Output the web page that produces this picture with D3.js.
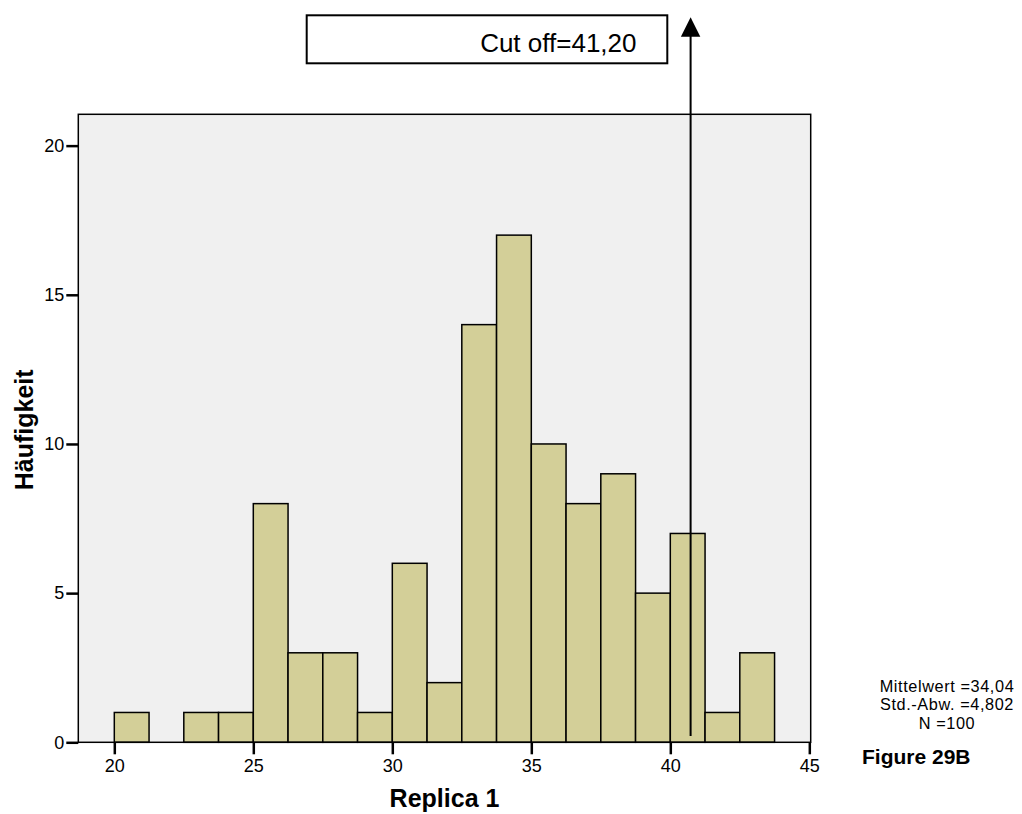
<!DOCTYPE html>
<html>
<head>
<meta charset="utf-8">
<script src="https://cdn.jsdelivr.net/npm/d3@7"></script>
<style>
  html, body { margin: 0; padding: 0; background: #fff; }
  svg { display: block; font-family: "Liberation Sans", Arial, sans-serif; }
</style>
</head>
<body>
<svg id="chart" width="1022" height="814"></svg>
<script>
// Histogram of Replica 1 (bin width 1.25, starting at 20)
const binStarts = [20, 21.25, 22.5, 23.75, 25, 26.25, 27.5, 28.75, 30, 31.25,
                   32.5, 33.75, 35, 36.25, 37.5, 38.75, 40, 41.25, 42.5];
const counts    = [1, 0, 1, 1, 8, 3, 3, 1, 6, 2,
                   14, 17, 10, 8, 9, 5, 7, 1, 3];
const binWidth = 1.25;
const xTicks = [20, 25, 30, 35, 40, 45];
const yTicks = [0, 5, 10, 15, 20];
const statLines = ["Mittelwert =34,04", "Std.-Abw. =4,802", "N =100"];
const cutoffLabel = "Cut off=41,20";
const arrowAt = 40.73;          // horizontal position of the cut-off arrow
const arrowSpan = [0.21, 24.3]; // arrow runs from this count level up past the frame

const svg = d3.select("#chart");
const plot = { left: 78.3, right: 810.7, top: 114.3, bottom: 742.3 };

const x = d3.scaleLinear().domain([18.705, 45.05]).range([plot.left, plot.right]);
const y = d3.scaleLinear().domain([0, 21.05]).range([plot.bottom, plot.top]);

// plot background
svg.append("rect")
  .attr("x", plot.left).attr("y", plot.top)
  .attr("width", plot.right - plot.left).attr("height", plot.bottom - plot.top)
  .attr("fill", "#f0f0f0");

// bars
svg.append("g").selectAll("rect")
  .data(binStarts.map((s, i) => ({ s, c: counts[i] })).filter(d => d.c > 0))
  .join("rect")
  .attr("x", d => x(d.s))
  .attr("y", d => y(d.c))
  .attr("width", d => x(d.s + binWidth) - x(d.s))
  .attr("height", d => y(0) - y(d.c))
  .attr("fill", "#d3cf98")
  .attr("stroke", "#000")
  .attr("stroke-width", 1.5);

// frame
svg.append("rect")
  .attr("x", plot.left).attr("y", plot.top)
  .attr("width", plot.right - plot.left).attr("height", plot.bottom - plot.top)
  .attr("fill", "none").attr("stroke", "#000").attr("stroke-width", 1.5);

// axes
const xAxis = svg.append("g")
  .attr("transform", `translate(0,${plot.bottom})`)
  .call(d3.axisBottom(x).tickValues(xTicks).tickSize(12).tickPadding(5).tickFormat(d3.format("d")));
const yAxis = svg.append("g")
  .attr("transform", `translate(${plot.left},0)`)
  .call(d3.axisLeft(y).tickValues(yTicks).tickSize(12).tickPadding(2).tickFormat(d3.format("d")));
[xAxis, yAxis].forEach(a => {
  a.select(".domain").remove();
  a.selectAll(".tick line").attr("stroke", "#000").attr("stroke-width", 2.5);
  a.selectAll(".tick text").attr("fill", "#000")
    .style("font-size", "18px").style("font-family", "'Liberation Sans', Arial, sans-serif");
});

// axis titles
svg.append("text")
  .attr("x", (plot.left + plot.right) / 2).attr("y", 807)
  .attr("text-anchor", "middle")
  .style("font-size", "25px").style("font-weight", "bold")
  .text("Replica 1");
svg.append("text")
  .attr("transform", `translate(33,${(plot.top + plot.bottom) / 2 + 1.5}) rotate(-90)`)
  .attr("text-anchor", "middle")
  .style("font-size", "25px").style("font-weight", "bold")
  .text("Häufigkeit");

// summary statistics
svg.append("g").selectAll("text")
  .data(statLines)
  .join("text")
  .attr("x", 947)
  .attr("y", (d, i) => 691.5 + i * 18.7)
  .attr("text-anchor", "middle")
  .style("font-size", "16.3px")
  .style("letter-spacing", "0.6px")
  .text(d => d);

svg.append("text")
  .attr("x", 862).attr("y", 764)
  .style("font-size", "21px").style("font-weight", "bold")
  .text("Figure 29B");

// cut-off label box
svg.append("rect")
  .attr("x", 306.7).attr("y", 15.3)
  .attr("width", 360.6).attr("height", 48)
  .attr("fill", "#fff").attr("stroke", "#000").attr("stroke-width", 2);
svg.append("text")
  .attr("x", 636.5).attr("y", 52)
  .attr("text-anchor", "end")
  .style("font-size", "26px")
  .text(cutoffLabel);

// cut-off arrow
const ax = x(arrowAt);
const yBottom = y(arrowSpan[0]);
const yTip = y(arrowSpan[1]);
svg.append("line")
  .attr("x1", ax).attr("x2", ax)
  .attr("y1", yBottom).attr("y2", yTip + 18)
  .attr("stroke", "#000").attr("stroke-width", 2);
svg.append("path")
  .attr("d", `M${ax},${yTip} L${ax - 9.7},${yTip + 19.5} L${ax + 9.7},${yTip + 19.5} Z`)
  .attr("fill", "#000");
</script>
</body>
</html>
